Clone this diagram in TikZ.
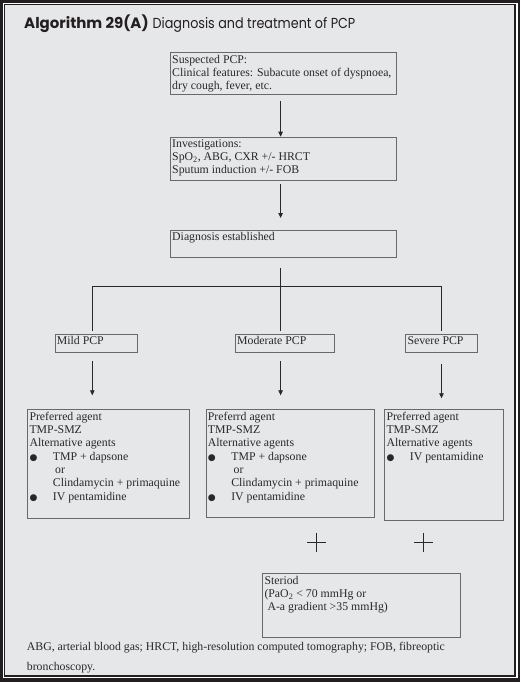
\documentclass[tikz,border=0pt]{standalone}
\usepackage{graphicx}
\usepackage{fontspec}
\setmainfont{Liberation Serif}
\newfontfamily\titlefont{Poppins}
\newfontfamily\symfont{DejaVu Sans}
\usetikzlibrary{arrows.meta,calc}

\definecolor{framek}{RGB}{35,31,32}
\definecolor{pagegray}{RGB}{230,231,233}
\definecolor{edgegray}{RGB}{105,105,108}
\definecolor{inkgray}{RGB}{40,40,42}

\newcommand\bul{\makebox[23.4pt][l]{\symfont\fontsize{9}{9}\selectfont ●}}

\tikzset{
  box/.style={draw=edgegray, line width=0.9pt, anchor=north west, inner sep=0pt},
  boxtext/.style={anchor=north west, align=left, inner xsep=2pt, inner ysep=2.5pt,
    text=inkgray, font={\fontsize{11.8}{13.3}\selectfont}},
  conn/.style={draw=inkgray, line width=0.8pt},
  arr/.style={conn, -{Triangle[width=4.5pt,length=5pt]}},
  plus/.style={draw=inkgray, line width=0.7pt}
}

\begin{document}
\begin{tikzpicture}[x=1pt,y=-1pt]
  % frame
  \fill[framek] (0,0) rectangle (520,682);
  \fill[white] (2.7,2.7) rectangle (517.6,678.4);
  \fill[framek] (3.7,3.7) rectangle (516.4,677.2);
  \fill[pagegray] (5.4,5.4) rectangle (514.4,675.2);

  \node[anchor=base west, inner sep=0pt, text=framek] (title) at (24,28.3)
    {\titlefont\fontsize{15}{15}\selectfont\textbf{Algorithm 29(A)}
     \scalebox{0.88}[1]{\fontsize{14.5}{15}\selectfont Diagnosis and treatment of PCP}};

  % columns
  \coordinate (colA) at (92.3,0);
  \coordinate (colB) at (280.6,0);
  \coordinate (colC) at (441.5,0);

  % main chain
  \node[box, minimum width=225.5pt, minimum height=41.7pt] (susp) at (170,52.3) {};
  \node[boxtext] (susp-t) at (susp.north west)
    {Suspected PCP:\\Clinical features: Subacute onset of dyspnoea,\\dry cough, fever, etc.};
  \node[box, minimum width=225.5pt, minimum height=43.3pt] (inv) at (170,136.7) {};
  \node[boxtext] (inv-t) at (inv.north west)
    {Investigations:\\SpO\textsubscript{2}, ABG, CXR +/- HRCT\\Sputum induction +/- FOB};
  \node[box, minimum width=225.5pt, minimum height=27.3pt] (diag) at (170,230) {};
  \node[boxtext] (diag-t) at (diag.north west) {Diagnosis established};

  % severity
  \node[box, minimum width=82.6pt, minimum height=18pt] (mild) at (54.7,334.3) {};
  \node[boxtext, inner ysep=2pt] (mild-t) at (mild.north west) {Mild PCP};
  \node[box, minimum width=99pt, minimum height=18pt] (mod) at (235,334.3) {};
  \node[boxtext, inner ysep=2pt] (mod-t) at (mod.north west) {Moderate PCP};
  \node[box, minimum width=72pt, minimum height=18pt] (sev) at (405.3,334.3) {};
  \node[boxtext, inner ysep=2pt] (sev-t) at (sev.north west) {Severe PCP};

  % treatment
  \node[box, minimum width=162pt, minimum height=109pt] (mildrx) at (27.3,409.3) {};
  \node[boxtext] (mildrx-t) at (mildrx.north west)
    {Preferred agent\\TMP-SMZ\\Alternative agents\\\bul TMP + dapsone\\
     \hspace*{25.7pt}or\\\hspace*{23.4pt}Clindamycin + primaquine\\\bul IV pentamidine};
  \node[box, minimum width=168pt, minimum height=108pt] (modrx) at (205.7,409.3) {};
  \node[boxtext] (modrx-t) at (modrx.north west)
    {Preferrd agent\\TMP-SMZ\\Alternative agents\\\bul TMP + dapsone\\
     \hspace*{25.7pt}or\\\hspace*{23.4pt}Clindamycin + primaquine\\\bul IV pentamidine};
  \node[box, minimum width=118.4pt, minimum height=110.7pt] (sevrx) at (384.3,409.3) {};
  \node[boxtext] (sevrx-t) at (sevrx.north west)
    {Preferred agent\\TMP-SMZ\\Alternative agents\\\bul IV pentamidine};

  \node[box, minimum width=197.5pt, minimum height=63.4pt] (ster) at (262.3,573.3) {};
  \node[boxtext] (ster-t) at (ster.north west)
    {Steriod\\(PaO\textsubscript{2} < 70 mmHg or\\\hspace*{3pt}A-a gradient >35 mmHg)};

  % plus signs
  \foreach \x in {316.3,423.3}
    \draw[plus] (\x-9.5,542.3) -- (\x+9.5,542.3) (\x,532.8) -- (\x,551.8);

  % connectors
  \draw[arr] ($(susp.south -| colB)+(0,6)$) -- (inv.north -| colB);
  \draw[arr] ($(inv.south -| colB)+(0,3)$) -- ($(diag.north -| colB)+(0,-12)$);
  \coordinate (hub) at ($(diag.south -| colB)+(0,28.4)$);
  \draw[conn] ($(diag.south -| colB)+(0,9.5)$) -- ($(mod.north -| colB)+(0,-3.5)$);
  \draw[conn] ($(mild.north -| colA)+(0,-3.5)$) |- (hub) -| ($(sev.north -| colC)+(0,-3.5)$);
  \draw[arr] ($(mild.south -| colA)+(0,7.7)$) -- ($(mildrx.north -| colA)+(0,-14)$);
  \draw[arr] ($(mod.south -| colB)+(0,7.7)$) -- ($(modrx.north -| colB)+(0,-14)$);
  \draw[arr] ($(sev.south -| colC)+(0,10.7)$) -- ($(sevrx.north -| colC)+(0,-11)$);

  % footnote
  \node[anchor=north west, align=left, inner sep=0pt, text=inkgray,
    font={\fontsize{11.8}{20}\selectfont}] (note) at (26.7,641.5)
    {ABG, arterial blood gas; HRCT, high-resolution computed tomography; FOB, fibreoptic\\bronchoscopy.};
\end{tikzpicture}
\end{document}
